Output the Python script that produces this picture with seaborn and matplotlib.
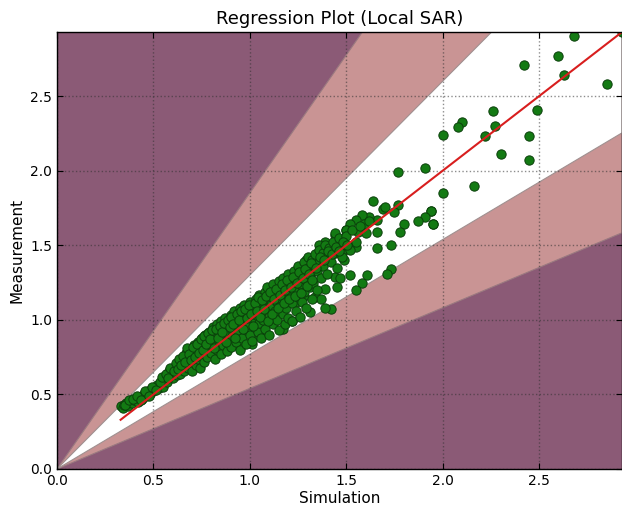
import numpy as np
import pandas as pd
import matplotlib
matplotlib.use('Agg')
import matplotlib.pyplot as plt
import seaborn as sns

# Sparse points
sim_sparse = [2.93, 2.68, 2.60, 2.42, 2.63, 2.85, 2.49, 2.26, 2.10, 2.08, 2.27, 2.00, 2.22, 2.45,
              2.30, 2.45, 2.16, 2.00, 1.94, 1.95, 1.77, 1.91, 1.64, 1.69, 1.70, 1.77, 1.75, 1.94,
              1.91, 1.87, 1.95, 1.80, 1.78, 1.66, 1.66, 1.62, 1.58, 1.55, 1.52, 1.59, 1.50, 1.56,
              1.44, 1.66, 1.73, 1.53, 1.55, 1.46, 1.42, 1.48, 1.49, 1.73, 1.71, 1.61, 1.52, 1.44,
              1.47, 1.58, 1.45, 1.55, 1.42, 1.44, 1.50, 1.39, 1.36, 1.29, 1.34, 1.39, 1.34, 1.37,
              1.28, 1.39, 1.31, 1.22, 1.17, 1.08, 0.95, 1.24, 1.14, 1.01, 1.02]
meas_sparse = [2.93, 2.90, 2.77, 2.71, 2.64, 2.58, 2.41, 2.40, 2.33, 2.29, 2.30, 2.24, 2.23, 2.23,
               2.11, 2.07, 1.90, 1.85, 1.73, 1.64, 1.99, 2.02, 1.80, 1.74, 1.76, 1.77, 1.72, 1.73,
               1.69, 1.66, 1.64, 1.64, 1.59, 1.59, 1.67, 1.69, 1.70, 1.67, 1.64, 1.64, 1.60, 1.59,
               1.57, 1.48, 1.50, 1.49, 1.49, 1.49, 1.47, 1.45, 1.40, 1.34, 1.31, 1.30, 1.30, 1.29,
               1.28, 1.25, 1.22, 1.20, 1.07, 1.58, 1.60, 1.52, 1.50, 1.40, 1.35, 1.21, 1.15, 1.14,
               1.16, 1.08, 1.05, 0.99, 0.94, 0.91, 0.81, 1.12, 1.05, 0.84, 0.90]

# Dense cluster along the diagonal
sim_dense = [0.33, 0.34, 0.35, 0.36, 0.37, 0.38, 0.39, 0.40, 0.41, 0.42, 0.43, 0.44, 0.45, 0.46,
             0.47, 0.48, 0.49, 0.50, 0.51, 0.52, 0.53, 0.54, 0.55, 0.55, 0.56, 0.57, 0.58, 0.58,
             0.59, 0.60, 0.60, 0.61, 0.62, 0.62, 0.63, 0.64, 0.64, 0.65, 0.66, 0.66, 0.67, 0.67,
             0.68, 0.68, 0.69, 0.70, 0.70, 0.71, 0.71, 0.72, 0.72, 0.73, 0.73, 0.74, 0.74, 0.75,
             0.75, 0.76, 0.76, 0.77, 0.77, 0.78, 0.78, 0.79, 0.79, 0.80, 0.80, 0.81, 0.81, 0.82,
             0.82, 0.83, 0.83, 0.84, 0.84, 0.85, 0.85, 0.86, 0.86, 0.87, 0.87, 0.88, 0.88, 0.89,
             0.89, 0.90, 0.90, 0.91, 0.91, 0.92, 0.92, 0.93, 0.93, 0.94, 0.94, 0.95, 0.95, 0.96,
             0.96, 0.97, 0.97, 0.98, 0.98, 0.99, 0.99, 1.00, 1.00, 1.01, 1.01, 1.02, 1.02, 1.03,
             1.03, 1.04, 1.04, 1.05, 1.05, 1.06, 1.06, 1.07, 1.07, 1.08, 1.08, 1.09, 1.09, 1.10,
             1.10, 1.11, 1.11, 1.12, 1.12, 1.13, 1.13, 1.14, 1.14, 1.15, 1.15, 1.16, 1.16, 1.17,
             1.17, 1.18, 1.18, 1.19, 1.19, 1.20, 1.20, 1.21, 1.21, 1.22, 1.22, 1.23, 1.23, 1.24,
             1.24, 1.25, 1.25, 1.26, 1.26, 1.27, 1.27, 1.28, 1.28, 1.29, 1.29, 1.30, 1.30, 1.31,
             1.31, 1.32, 1.32, 1.33, 1.33, 1.34, 1.35, 1.35, 1.36, 1.36, 1.37, 1.38, 1.38, 1.39,
             1.40, 1.40, 1.41, 1.42, 1.43, 1.44, 1.45, 1.46, 1.47, 1.48, 1.50, 1.52, 1.53, 1.55,
             1.57, 1.60, 1.62]
meas_dense = [0.42, 0.41, 0.43, 0.44, 0.42, 0.45, 0.44, 0.46, 0.47, 0.45, 0.48, 0.47, 0.50, 0.49,
              0.52, 0.50, 0.53, 0.52, 0.55, 0.56, 0.54, 0.57, 0.59, 0.55, 0.60, 0.58, 0.62, 0.66,
              0.63, 0.61, 0.68, 0.65, 0.70, 0.63, 0.67, 0.72, 0.64, 0.69, 0.74, 0.66, 0.71, 0.78,
              0.68, 0.75, 0.80, 0.72, 0.66, 0.77, 0.83, 0.70, 0.79, 0.74, 0.85, 0.81, 0.68, 0.76,
              0.88, 0.83, 0.72, 0.79, 0.90, 0.86, 0.75, 0.82, 0.92, 0.78, 0.88, 0.84, 0.95, 0.74,
              0.90, 0.80, 0.97, 0.86, 0.93, 0.77, 0.99, 0.89, 0.83, 0.95, 1.01, 0.79, 0.91, 0.86,
              0.98, 1.03, 0.82, 0.94, 0.89, 1.00, 1.06, 0.85, 0.96, 0.91, 1.04, 1.08, 0.80, 0.98,
              0.88, 1.02, 1.10, 0.93, 0.84, 1.06, 0.97, 1.12, 0.90, 1.01, 0.86, 1.08, 0.95, 1.14,
              1.03, 0.92, 1.10, 0.98, 1.17, 1.05, 0.88, 1.12, 1.00, 1.19, 0.94, 1.08, 1.22, 1.02,
              0.90, 1.15, 1.10, 0.97, 1.24, 1.06, 1.18, 1.00, 1.12, 1.26, 0.93, 1.09, 1.20, 1.04,
              1.28, 1.14, 0.97, 1.23, 1.08, 1.31, 1.01, 1.17, 1.26, 1.11, 0.99, 1.33, 1.20, 1.06,
              1.29, 1.15, 1.36, 1.24, 1.02, 1.32, 1.12, 1.39, 1.19, 1.27, 1.08, 1.35, 1.42, 1.22,
              1.30, 1.40, 1.14, 1.37, 1.25, 1.44, 1.33, 1.20, 1.47, 1.39, 1.28, 1.45, 1.36, 1.50,
              1.42, 1.31, 1.48, 1.39, 1.52, 1.45, 1.35, 1.55, 1.49, 1.42, 1.56, 1.47, 1.60, 1.52,
              1.63, 1.58, 1.66]

# More points filling the upper half of the cluster
sim_fill = [0.355, 0.375, 0.395, 0.415, 0.435, 0.455, 0.475, 0.495, 0.515, 0.535, 0.545, 0.565,
            0.575, 0.585, 0.605, 0.615, 0.625, 0.635, 0.645, 0.655, 0.665, 0.675, 0.685, 0.695,
            0.705, 0.715, 0.725, 0.735, 0.745, 0.755, 0.765, 0.775, 0.785, 0.795, 0.805, 0.815,
            0.825, 0.835, 0.845, 0.855, 0.865, 0.875, 0.885, 0.895, 0.905, 0.915, 0.925, 0.935,
            0.945, 0.955, 0.965, 0.975, 0.985, 0.995, 1.005, 1.015, 1.025, 1.035, 1.045, 1.055,
            1.065, 1.075, 1.085, 1.095, 1.105, 1.115, 1.125, 1.135, 1.145, 1.155, 1.165, 1.175,
            1.185, 1.195, 1.205, 1.215, 1.225, 1.235, 1.245, 1.255, 1.265, 1.275, 1.285, 1.295,
            1.305, 1.315, 1.325, 1.345, 1.365, 1.385, 1.405, 1.425, 1.445, 1.465, 1.485, 1.505]
meas_fill = [0.43, 0.46, 0.47, 0.49, 0.46, 0.52, 0.49, 0.55, 0.53, 0.58, 0.62, 0.64,
             0.61, 0.68, 0.66, 0.71, 0.67, 0.74, 0.70, 0.76, 0.72, 0.81, 0.77, 0.73,
             0.82, 0.75, 0.84, 0.78, 0.87, 0.80, 0.89, 0.84, 0.91, 0.87, 0.93, 0.81,
             0.94, 0.88, 0.96, 0.92, 0.98, 0.85, 1.00, 0.95, 1.02, 0.97, 0.88, 1.04,
             1.00, 1.06, 0.94, 1.07, 1.01, 1.10, 1.04, 0.96, 1.11, 1.06, 1.15, 1.02,
             1.13, 1.07, 1.16, 0.99, 1.19, 1.04, 1.14, 1.21, 1.08, 1.17, 1.24, 1.11,
             1.20, 1.27, 1.14, 1.22, 1.29, 1.16, 1.25, 1.32, 1.18, 1.28, 1.34, 1.23,
             1.31, 1.38, 1.27, 1.35, 1.42, 1.40, 1.46, 1.44, 1.49, 1.46, 1.52, 1.50]

fit_slope = 1.0
fit_intercept = 0.0
inner_factor = 1.3
outer_factor = 1.85
axis_max = 2.93

df = pd.DataFrame({
    'Simulation': sim_sparse + sim_dense + sim_fill,
    'Measurement': meas_sparse + meas_dense + meas_fill,
})

fig = plt.figure(figsize=(6.22, 5.05), dpi=100)
ax = fig.add_axes([0.0916, 0.0713, 0.9084, 0.8653])
ax.set_facecolor('#8b5a76')

xb = np.array([0, axis_max])
ax.fill_between(xb, xb / outer_factor, xb * outer_factor, facecolor='#c99494',
                edgecolor='#9a7a80', linewidth=0.8, zorder=1)
ax.fill_between(xb, xb / inner_factor, xb * inner_factor, facecolor='white',
                edgecolor='#a09090', linewidth=0.8, zorder=1.1)

sns.scatterplot(data=df, x='Simulation', y='Measurement', ax=ax, color='#137a13',
                edgecolor='#0b400b', linewidth=0.7, s=45, zorder=3)

fit_x = np.array([df['Simulation'].min(), df['Simulation'].max()])
sns.lineplot(x=fit_x, y=fit_slope * fit_x + fit_intercept, ax=ax, color='#d81e1e',
             linewidth=1.5, zorder=4)

ax.set_xlim(0, axis_max)
ax.set_ylim(0, axis_max)
ax.set_xticks([0.0, 0.5, 1.0, 1.5, 2.0, 2.5])
ax.set_yticks([0.0, 0.5, 1.0, 1.5, 2.0, 2.5])
ax.set_axisbelow(False)
ax.grid(True, color='#303030', alpha=0.55, linestyle=':', linewidth=1.0, zorder=2)
ax.tick_params(direction='in', top=True, right=True, labelsize=10, length=4)
for sp in ax.spines.values():
    sp.set_color('black')
    sp.set_linewidth(1.0)
    sp.set_zorder(5)

ax.set_xlabel('Simulation', fontsize=11, labelpad=2)
ax.set_ylabel('Measurement', fontsize=11)
ax.set_title('Regression Plot (Local SAR)', fontsize=13)

fig.savefig('out.png', dpi=100)
